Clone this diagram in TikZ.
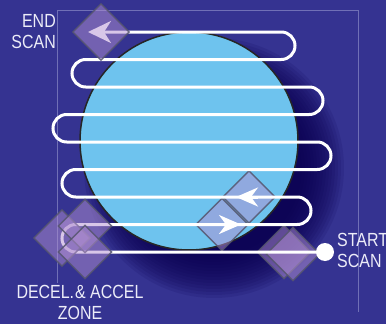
\documentclass[tikz,border=0pt]{standalone}
\usepackage{fontspec}
\setmainfont{Liberation Sans}
\newfontfamily\condfont[FakeStretch=0.84]{Liberation Sans}
\usetikzlibrary{shapes.geometric,arrows.meta}
\definecolor{bgblue}{RGB}{53,51,145}
\definecolor{wafer}{RGB}{110,195,238}
\definecolor{wafershadow}{RGB}{10,0,80}
\definecolor{zonefill}{RGB}{178,144,210}
\definecolor{zoneline}{RGB}{85,85,110}
\definecolor{framec}{RGB}{112,112,182}
\definecolor{txt}{RGB}{236,236,248}
\begin{document}
\begin{tikzpicture}[x=1pt,y=-1pt,
  zone/.style={diamond, draw=zoneline, draw opacity=0.85, line width=1.4pt,
    fill=zonefill, fill opacity=0.5, inner sep=0pt, minimum size=#1},
  zone/.default=54pt,
  scan/.style={draw=white, line width=3pt},
  dirmark/.style={draw=white, line width=3pt, -{Stealth[length=22pt,width=19pt,inset=7pt]}},
  lbl/.style={text=txt, font=\condfont\fontsize{19}{21}\selectfont, inner sep=0pt}]
\fill[bgblue] (0,0) rectangle (386,324);
\useasboundingbox (0,0) rectangle (386,324);
% frame
\draw[framec, line width=0.8pt] (57,283) -- (57,10) -- (358,10) -- (358,312);
% shadow of the wafer
\foreach \r in {88,91,...,130}
  \fill[wafershadow, opacity=0.12] (214,168) circle (\r pt);
% wafer
\node[circle, fill=wafer, draw=black!85, line width=1.5pt, minimum size=218pt, inner sep=0pt] (wafer) at (189,141) {};
% zones under the scan path
\node[zone=53pt] (turnA) at (249,197) {};
\node[zone=53pt] (turnB) at (222,224.5) {};
\node[zone] (accA) at (284,252) {};
\node[zone] (accB) at (293,254) {};
% scan path
\coordinate (startpt) at (325,252);
\coordinate (endpt) at (88,32);
\draw[scan, rounded corners=13.75pt, -{Stealth[length=23pt,width=22pt,inset=7pt]}]
  (startpt) -- (62,252) -- (62,224.5) -- (311,224.5) -- (311,197) -- (62,197)
  -- (62,169.5) -- (331,169.5) -- (331,142) -- (53,142) -- (53,114.5)
  -- (323,114.5) -- (323,87) -- (72,87) -- (72,59.5) -- (295,59.5) -- (295,32)
  -- (endpt);
\draw[dirmark] ([xshift=9pt]turnA.center) -- ([xshift=-13pt]turnA.center);
\draw[dirmark] ([xshift=-6pt]turnB.center) -- ([xshift=19pt]turnB.center);
\node[circle, fill=white, minimum size=18pt, inner sep=0pt] (start) at (startpt) {};
% zones over the scan path
\node[zone=57pt] (decA) at (62,238) {};
\node[zone] (decB) at (85,226) {};
\node[zone] (decC) at (85,252) {};
\node[zone=57pt] (endz) at (101,32) {};
% labels
\node[lbl, anchor=east, align=right] (endlbl) at (56,32) {END\\SCAN};
\node[lbl, anchor=west, align=left] (startlbl) at (337,250) {START\\SCAN};
\node[lbl, align=center] (declbl) at (80,302) {DECEL.\kern1pt\& ACCEL\\ZONE};
\end{tikzpicture}
\end{document}
